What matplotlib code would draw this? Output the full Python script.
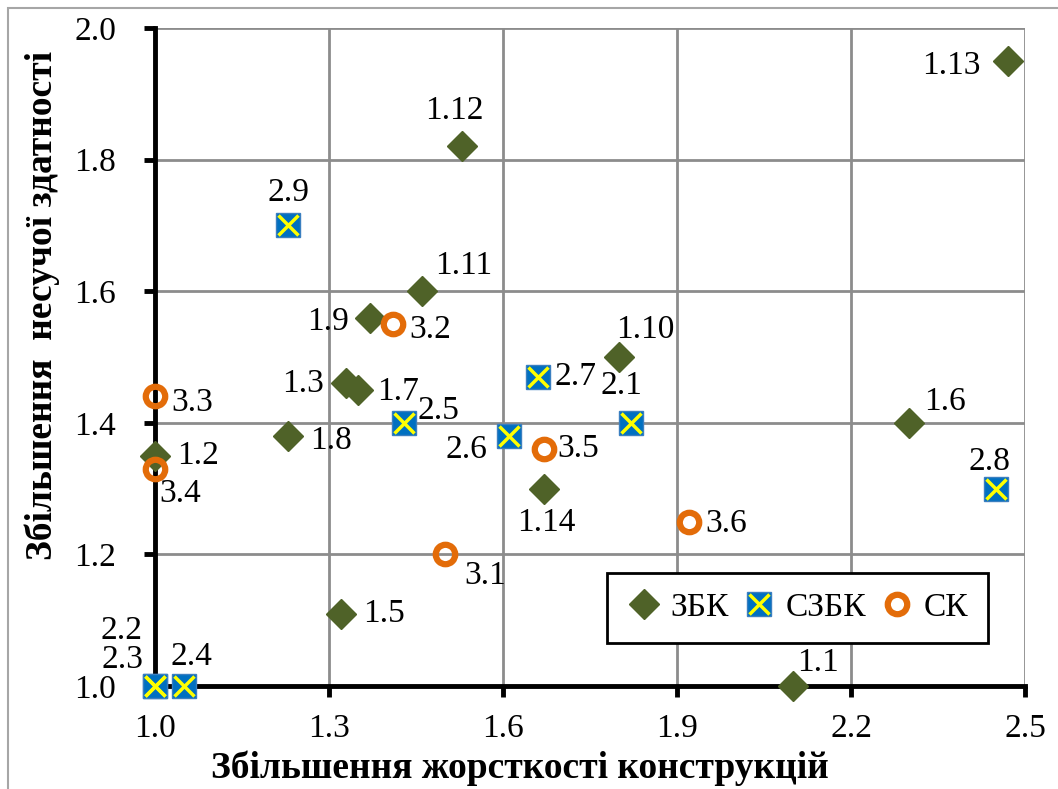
import matplotlib
matplotlib.use("Agg")
import matplotlib.pyplot as plt
from matplotlib.legend_handler import HandlerTuple
from matplotlib.patches import Rectangle

plt.rcParams["font.family"] = ["Liberation Serif", "DejaVu Serif"]

# ЗБК
zbk_labels = ["1.1", "1.2", "1.3", "1.5", "1.6", "1.7", "1.8", "1.9",
              "1.10", "1.11", "1.12", "1.13", "1.14"]
zbk_x = [2.10, 1.00, 1.33, 1.32, 2.30, 1.35, 1.23, 1.37, 1.80, 1.46, 1.53, 2.47, 1.67]
zbk_y = [1.00, 1.35, 1.46, 1.11, 1.40, 1.45, 1.38, 1.56, 1.50, 1.60, 1.82, 1.95, 1.30]

# СЗБК
szbk_labels = ["2.1", "2.2", "2.3", "2.4", "2.5", "2.6", "2.7", "2.8", "2.9"]
szbk_x = [1.82, 1.00, 1.00, 1.05, 1.43, 1.61, 1.66, 2.45, 1.23]
szbk_y = [1.40, 1.00, 1.00, 1.00, 1.40, 1.38, 1.47, 1.30, 1.70]

# СК
sk_labels = ["3.1", "3.2", "3.3", "3.4", "3.5", "3.6"]
sk_x = [1.50, 1.41, 1.00, 1.00, 1.67, 1.92]
sk_y = [1.20, 1.55, 1.44, 1.33, 1.36, 1.25]

x_ticks = [1.0, 1.3, 1.6, 1.9, 2.2, 2.5]
y_ticks = [1.0, 1.2, 1.4, 1.6, 1.8, 2.0]

# зсуви підписів точок (у пікселях: вправо, вниз)
label_offsets = {
    "1.1": (25, -23), "1.2": (43, 0), "1.3": (-43, 0), "1.5": (43, 0),
    "1.6": (36, -21), "1.7": (40, 2), "1.8": (43, 5), "1.9": (-42, 4),
    "1.10": (26, -27), "1.11": (42, -25), "1.12": (-8, -36), "1.13": (-56, 5),
    "1.14": (3, 34),
    "2.1": (-9, -37), "2.2": (-33, -55), "2.3": (-33, -26), "2.4": (7, -29),
    "2.5": (34, -12), "2.6": (-42, 14), "2.7": (38, 0), "2.8": (-7, -27),
    "2.9": (0, -33),
    "3.1": (40, 21), "3.2": (37, 6), "3.3": (37, 6), "3.4": (25, 25),
    "3.5": (35, 0), "3.6": (38, 2),
}

green = "#4F6228"
blue = "#0070C0"
yellow = "#FFFF00"
orange = "#E36C09"

fig = plt.figure(figsize=(10.58, 7.89), dpi=100)
ax = fig.add_axes([155 / 1058, 1 - 686 / 789, 870 / 1058, 658 / 789])

# рамка області діаграми
fig.patches.append(Rectangle((8 / 1058, -0.1), 1.2, 1 - 8 / 789 + 0.1,
                             transform=fig.transFigure, fill=False,
                             edgecolor="#a6a6a6", linewidth=1.5))

ax.set_xlim(1.0, 2.5)
ax.set_ylim(1.0, 2.0)
ax.set_xticks(x_ticks)
ax.set_yticks(y_ticks)
ax.set_xticklabels([f"{v:.1f}" for v in x_ticks])
ax.set_yticklabels([f"{v:.1f}" for v in y_ticks])
ax.grid(True, color="#8c8c8c", linewidth=2)
ax.set_axisbelow(True)
for side in ("top", "right"):
    ax.spines[side].set_visible(False)
for side in ("left", "bottom"):
    ax.spines[side].set_linewidth(3.5)
    ax.spines[side].set_color("black")
ax.tick_params(direction="out", length=8, width=3.5, labelsize=24, color="black")
ax.tick_params(axis="x", pad=12)
ax.tick_params(axis="y", pad=20)

h_zbk, = ax.plot(zbk_x, zbk_y, "D", color=green, markersize=15, linestyle="none",
                 clip_on=False, zorder=3)
h_sq, = ax.plot(szbk_x, szbk_y, "s", markerfacecolor=blue, markeredgecolor="#3a7fc0",
                markersize=17, linestyle="none", clip_on=False, zorder=4)
h_x, = ax.plot(szbk_x, szbk_y, "x", color=yellow, markersize=14, markeredgewidth=2.5,
               linestyle="none", clip_on=False, zorder=5)
h_sk, = ax.plot(sk_x, sk_y, "o", markerfacecolor="none", markeredgecolor=orange,
                markersize=14, markeredgewidth=4.5, linestyle="none", clip_on=False,
                zorder=6)

for labels, xs, ys in ((zbk_labels, zbk_x, zbk_y), (szbk_labels, szbk_x, szbk_y),
                       (sk_labels, sk_x, sk_y)):
    for lab, xv, yv in zip(labels, xs, ys):
        dx, dy = label_offsets[lab]
        ax.annotate(lab, (xv, yv), xytext=(dx * 0.72, -dy * 0.72),
                    textcoords="offset points", ha="center", va="center",
                    fontsize=24, zorder=7, annotation_clip=False)

fig.text(520 / 1058, 1 - 768 / 789, "Збільшення жорсткості конструкцій",
         fontsize=27, fontweight="bold", ha="center", va="center")
fig.text(42 / 1058, 1 - 306 / 789, "Збільшення  несучої здатності",
         fontsize=27, fontweight="bold", ha="center", va="center", rotation=90)

leg = ax.legend([h_zbk, (h_sq, h_x), h_sk], ["ЗБК", "СЗБК", "СК"],
                handler_map={tuple: HandlerTuple(ndivide=1)},
                loc="lower left", bbox_to_anchor=((607 - 155) / 870, (686 - 643) / 658,
                                                  381 / 870, 75 / 658),
                mode="expand", ncol=3, fontsize=24, frameon=True, fancybox=False,
                edgecolor="black", framealpha=1, handlelength=1.0, handletextpad=0.3,
                columnspacing=1.0, borderaxespad=0, borderpad=0.6)
leg.get_frame().set_linewidth(2)
leg.set_zorder(8)

fig.savefig("out.png", dpi=100)
